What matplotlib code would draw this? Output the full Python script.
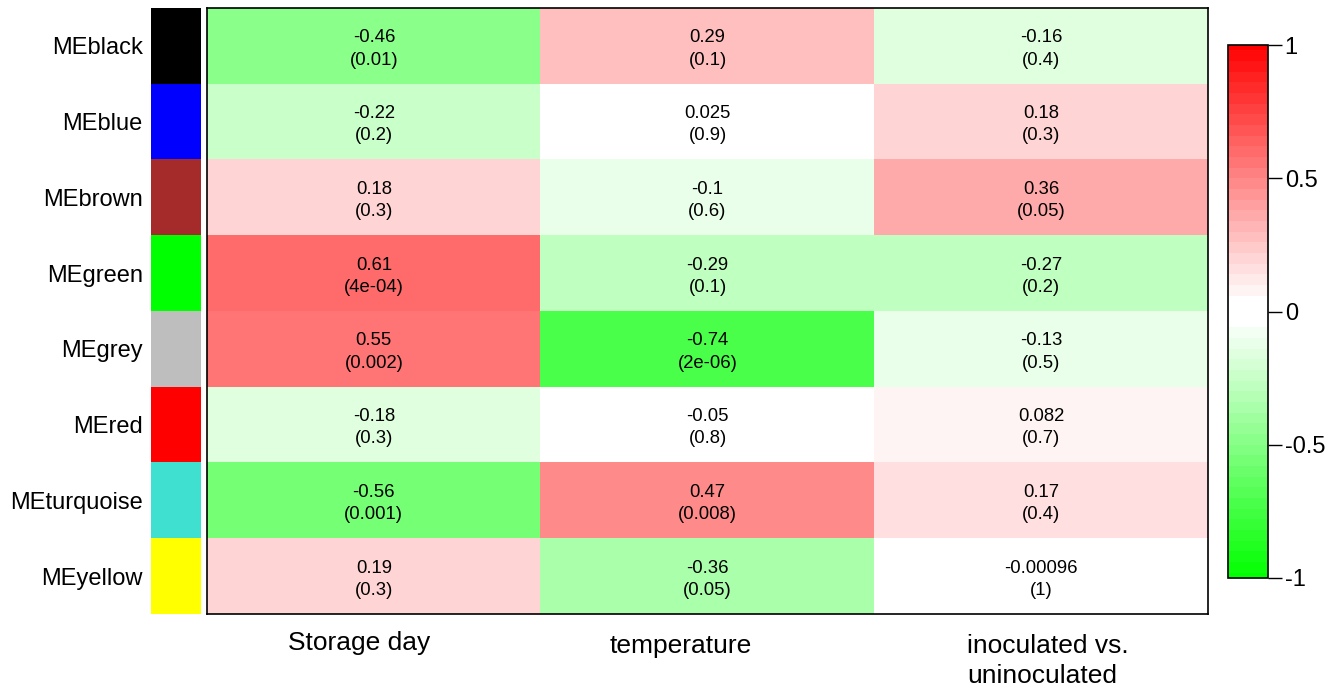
import numpy as np
import matplotlib
matplotlib.use("Agg")
import matplotlib.pyplot as plt
from matplotlib.colors import ListedColormap, BoundaryNorm

plt.rcParams['font.family'] = ['Liberation Sans', 'DejaVu Sans']

# module eigengenes and traits
modules = ['MEblack', 'MEblue', 'MEbrown', 'MEgreen', 'MEgrey', 'MEred', 'MEturquoise', 'MEyellow']
module_colors = ['#000000', '#0000FF', '#A52A2A', '#00FF00', '#BEBEBE', '#FF0000', '#40E0D0', '#FFFF00']
traits = ['Storage day', 'temperature', 'inoculated vs.\nuninoculated']

cor_storage = [-0.46, -0.22, 0.18, 0.61, 0.55, -0.18, -0.56, 0.19]
cor_temp = [0.29, 0.025, -0.1, -0.29, -0.74, -0.05, 0.47, -0.36]
cor_inoc = [-0.16, 0.18, 0.36, -0.27, -0.13, 0.082, 0.17, -0.00096]

p_storage = ['0.01', '0.2', '0.3', '4e-04', '0.002', '0.3', '0.001', '0.3']
p_temp = ['0.1', '0.9', '0.6', '0.1', '2e-06', '0.8', '0.008', '0.05']
p_inoc = ['0.4', '0.3', '0.05', '0.2', '0.5', '0.7', '0.4', '1']

cor = np.column_stack([cor_storage, cor_temp, cor_inoc])
pval = np.column_stack([p_storage, p_temp, p_inoc])

# green - white - red palette, 51 steps with a white centre band
k = np.arange(-25, 26)
t = np.clip(np.abs(k) - 1, 0, None) / 24
red = np.where(k < 0, 1 - t, 1.0)
green = np.where(k > 0, 1 - t, 1.0)
blue = 1 - t
cmap = ListedColormap(np.column_stack([red, green, blue]))
bounds = np.linspace(-1.02, 1.02, 52)
norm = BoundaryNorm(bounds, len(k))

W, H = 1328, 688
fig = plt.figure(figsize=(W / 100, H / 100), dpi=100)

ax = fig.add_axes([207 / W, 1 - 614 / H, 1001 / W, 606 / H])
ax.imshow(cor, cmap=cmap, norm=norm, aspect='auto', interpolation='nearest')
for i in range(cor.shape[0]):
    for j in range(cor.shape[1]):
        ax.text(j, i + 0.04, f"{cor[i, j]:.2g}\n({pval[i, j]})", ha='center', va='center',
                fontsize=13.3, linespacing=1.4)
ax.set_yticks([])
ax.set_xticks([])
for s in ax.spines.values():
    s.set_linewidth(1.2)

# trait labels under the columns (R centres them a bit off)
label_shift = [-0.045, -0.08, 0.02]
label_drop = [0.22, 0.27, 0.27]
for j, lab in enumerate(traits):
    ax.text(j + label_shift[j], cor.shape[0] - 0.5 + label_drop[j], lab, ha='center', va='top',
            fontsize=19, multialignment='left', linespacing=1.31)

# colour swatches for modules
axs = fig.add_axes([151 / W, 1 - 614 / H, 50 / W, 606 / H])
axs.imshow(np.arange(len(modules))[:, None], cmap=ListedColormap(module_colors),
           aspect='auto', interpolation='nearest')
axs.set_xticks([])
axs.set_yticks(range(len(modules)))
axs.set_yticklabels(modules, fontsize=17)
axs.tick_params(axis='y', length=0, pad=6)
for s in axs.spines.values():
    s.set_visible(False)

# colour bar
cax = fig.add_axes([1228 / W, 1 - 578 / H, 40 / W, 533 / H])
cb = fig.colorbar(plt.cm.ScalarMappable(norm=norm, cmap=cmap), cax=cax,
                  ticks=[-1, -0.5, 0, 0.5, 1])
cb.ax.set_ylim(-1, 1)
cb.ax.minorticks_off()
cb.ax.set_yticklabels(['-1', '-0.5', '0', '0.5', '1'], fontsize=17)
cb.ax.tick_params(length=10, width=1, pad=2)
cb.outline.set_linewidth(1.2)

fig.savefig('out.png', dpi=100)
